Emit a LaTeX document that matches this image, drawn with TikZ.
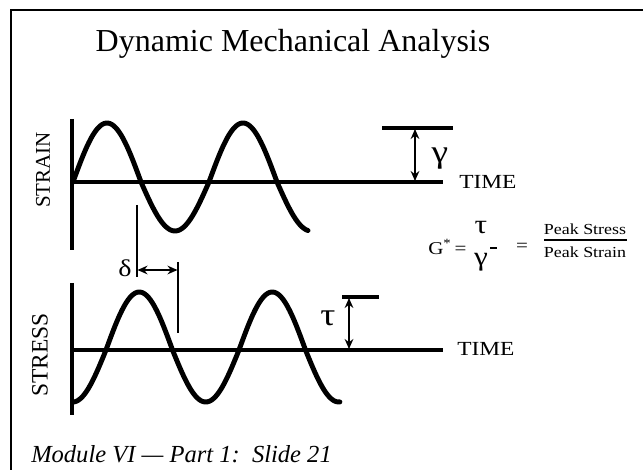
\documentclass[tikz,border=0pt]{standalone}
\usepackage{fontspec}
\setmainfont{Liberation Serif}
\newfontfamily\lblfont{Liberation Serif}[FakeStretch=1.17]
\usetikzlibrary{arrows.meta}
\tikzset{
  axisline/.style={line width=3pt},
  wave/.style={line width=3.7pt, line cap=round, line join=round},
  markline/.style={line width=1.9pt},
  barline/.style={line width=3pt},
  dimarrow/.style={line width=2.2pt, {Stealth[length=7.5pt,width=6.5pt]}-{Stealth[length=7.5pt,width=6.5pt]}},
  lbl/.style={inner sep=0pt, font=\lblfont\fontsize{15pt}{18pt}\selectfont},
  greek/.style={inner sep=0pt, font=\lblfont\fontsize{24pt}{28pt}\selectfont},
  formula/.style={inner sep=0pt, font=\lblfont\fontsize{13.5pt}{15pt}\selectfont},
  fgreek/.style={inner sep=0pt, font=\lblfont\fontsize{20pt}{22pt}\selectfont},
  peak/.style={inner sep=0pt, font=\lblfont\fontsize{11.5pt}{13pt}\selectfont},
}
\begin{document}
\begin{tikzpicture}[x=0.75pt,y=-0.75pt]
\useasboundingbox (0,0) rectangle (643,470);
\fill[white] (0,0) rectangle (643,470);
% frame
\draw[line width=1.2pt] (11,470) -- (11,10) -- (643,10);
% title
\node[inner sep=0pt, anchor=base, font=\fontsize{24pt}{28pt}\selectfont] (title) at (293,52) {Dynamic Mechanical Analysis};
% ---------- strain ----------
\coordinate (sA1) at (72,119);
\coordinate (sA2) at (72,250);
\coordinate (sO) at (72,182);
\coordinate (sE) at (443,182);
\draw[axisline] (sA1) -- (sA2);
\draw[axisline] (sO) -- (sE);
\draw[wave] plot[domain=0:622, samples=150, variable=\t]
  ({73+\t/180*68}, {182 - (sin(\t)>0 ? 59 : 49)*sin(\t)});
\node[rotate=90, inner sep=0pt, font=\fontsize{15.75pt}{18pt}\selectfont] (strainlbl) at (43,170) {STRAIN};
\node[lbl, anchor=base west] (time1) at (459,189) {TIME};
% gamma bar
\coordinate (gb1) at (382,128);
\coordinate (gb2) at (453,128);
\coordinate (gt) at (415,129);
\coordinate (gbm) at (415,181);
\draw[barline] (gb1) -- (gb2);
\draw[dimarrow] (gt) -- (gbm);
\node[greek] (gam) at (440,159) {γ};
% ---------- delta ----------
\coordinate (d1a) at (137,205);
\coordinate (d1b) at (137,277);
\coordinate (d2a) at (178,262);
\coordinate (d2b) at (178,333);
\coordinate (da1) at (137.5,270);
\coordinate (da2) at (177.5,270);
\draw[markline] (d1a) -- (d1b);
\draw[markline] (d2a) -- (d2b);
\draw[dimarrow, line width=1.8pt] (da1) -- (da2);
\node[inner sep=0pt, font=\lblfont\fontsize{18pt}{20pt}\selectfont] (del) at (125,268) {δ};
% ---------- stress ----------
\coordinate (tA1) at (72,283);
\coordinate (tA2) at (72,415);
\coordinate (tO) at (72,350);
\coordinate (tE) at (443,350);
\draw[axisline] (tA1) -- (tA2);
\draw[axisline] (tO) -- (tE);
\draw[wave] plot[domain=-89:633, samples=160, variable=\t]
  ({106+\t/180*66.5}, {350 - (sin(\t)>0 ? 58 : 52)*sin(\t)});
\node[rotate=90, inner sep=0pt, font=\fontsize{17.6pt}{20pt}\selectfont] (stresslbl) at (40,355) {STRESS};
\node[lbl, anchor=base west] (time2) at (457,356) {TIME};
% tau bar
\coordinate (tb1) at (342,297);
\coordinate (tb2) at (379,297);
\coordinate (tt) at (349,298);
\coordinate (tbm) at (349,349);
\draw[barline] (tb1) -- (tb2);
\draw[dimarrow] (tt) -- (tbm);
\node[greek] (tau) at (328,318) {τ};
% ---------- formula ----------
\node[formula, anchor=west] (gstar) at (428,247) {G\textsuperscript{*}\,=};
\node[fgreek] (ftau) at (481,228) {τ};
\node[fgreek] (fgam) at (481,262) {γ};
\coordinate (tick1) at (490,248);
\coordinate (tick2) at (497,248);
\draw[line width=0.8pt] (tick1) -- (tick2);
\node[formula] (eq2) at (522,247) {=};
\node[peak] (pstress) at (585,229) {Peak Stress};
\coordinate (fb1) at (544,240);
\coordinate (fb2) at (627,240);
\draw[line width=1.5pt] (fb1) -- (fb2);
\node[peak] (pstrain) at (585,252) {Peak Strain};
% footer
\node[inner sep=0pt, anchor=base west, font=\itshape\fontsize{18.4pt}{20pt}\selectfont] (footer) at (31,462) {Module VI — Part 1:\ \ Slide 21};
\end{tikzpicture}
\end{document}
